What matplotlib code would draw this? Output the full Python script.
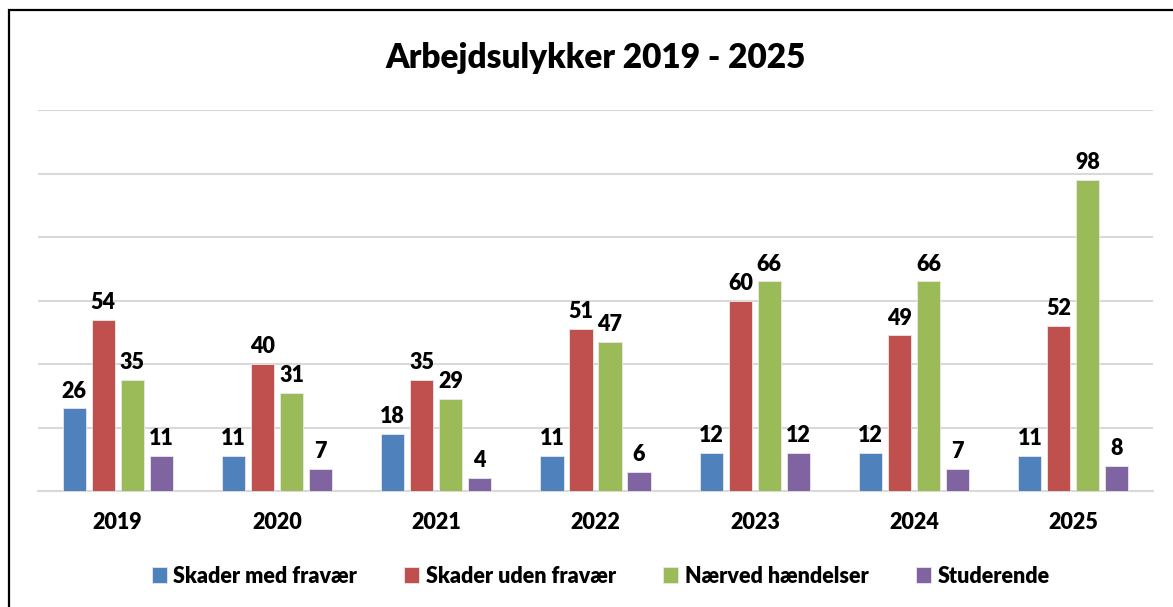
import matplotlib
matplotlib.use('Agg')
import matplotlib.pyplot as plt
from matplotlib.patches import Rectangle
import numpy as np

plt.rcParams['font.family'] = ['Lato', 'DejaVu Sans']

years = ['2019', '2020', '2021', '2022', '2023', '2024', '2025']
skader_med = [26, 11, 18, 11, 12, 12, 11]
skader_uden = [54, 40, 35, 51, 60, 49, 52]
naerved = [35, 31, 29, 47, 66, 66, 98]
studerende = [11, 7, 4, 6, 12, 7, 8]

series = [
    ('Skader med fravær', skader_med, '#4F81BD'),
    ('Skader uden fravær', skader_uden, '#C0504D'),
    ('Nærved hændelser', naerved, '#9BBB59'),
    ('Studerende', studerende, '#8064A2'),
]

fig = plt.figure(figsize=(11.73, 6.07), dpi=100)
ax = fig.add_axes([0.0324, 0.191, 0.9506, 0.6278])

x = np.arange(len(years))
step = 0.182
w = 0.145
for k, (name, vals, col) in enumerate(series):
    pos = x + (k - 1.5) * step
    ax.bar(pos, vals, width=w, color=col, edgecolor='#E8E8E8',
           linewidth=0.6, label=name, zorder=3)
    for p, v in zip(pos, vals):
        ax.annotate(str(v), (p, v), xytext=(0, 5), textcoords='offset points',
                    ha='center', va='bottom', fontsize=15.5, fontweight='heavy')

ax.set_xlim(-0.5, len(years) - 0.5)
ax.set_ylim(0, 120)
ax.set_yticks(np.arange(0, 121, 20))
ax.yaxis.grid(True, color='#D9D9D9', linewidth=1.5, zorder=0)
ax.tick_params(axis='y', left=False, labelleft=False)
ax.tick_params(axis='x', length=0, pad=15, labelsize=15.5)
ax.set_xticks(x)
ax.set_xticklabels(years, fontweight='heavy')
for s in ['top', 'right', 'left']:
    ax.spines[s].set_visible(False)
ax.spines['bottom'].set_color('#D9D9D9')
ax.spines['bottom'].set_linewidth(1.5)

fig.text(0.508, 0.905, 'Arbejdsulykker 2019 - 2025', ha='center', va='center',
         fontsize=24, fontweight='heavy')

leg = fig.legend(loc='center', bbox_to_anchor=(0.512, 0.051), ncol=4,
                 frameon=False, handlelength=0.7, handleheight=0.7,
                 handletextpad=0.3, columnspacing=2.2,
                 prop={'size': 15.5, 'weight': 'heavy'})

fig.patches.append(Rectangle((0.0077, -0.1), 1.5, 0.9835 + 0.1,
                             transform=fig.transFigure, fill=False,
                             edgecolor='black', linewidth=1.6))

fig.savefig('out.png', dpi=100)
